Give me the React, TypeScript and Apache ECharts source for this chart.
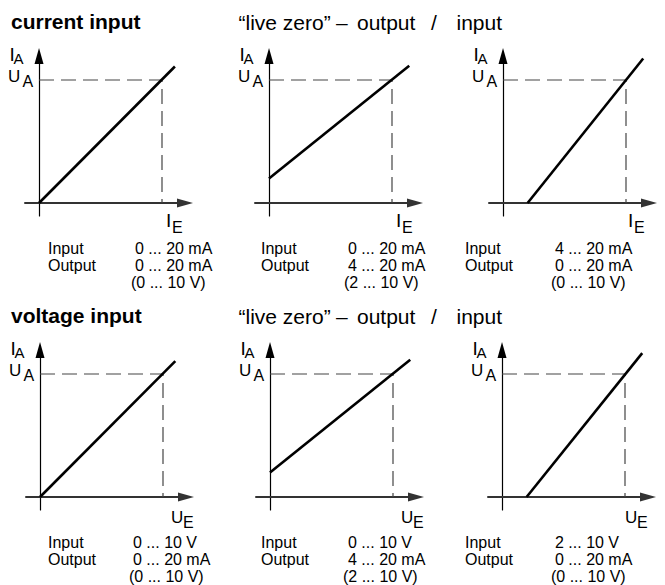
import React, { useEffect, useRef } from "react";
import * as echarts from "echarts";

// ---- data ----
const rowTitles = ["current input", "voltage input"];
const headerParts = ["\u201Clive zero\u201D", "\u2013", "output", "/", "input"];
const inputFull = [20, 20, 20, 10, 10, 10]; // full-scale input (mA or V)
const outputFull = [20, 20, 20, 20, 20, 20]; // full-scale output (mA)
const transferLines: number[][][] = [
  [[0, 0], [22.1, 22.2]],
  [[0, 4], [22.8, 22.3]],
  [[4, 0], [22.8, 23.5]],
  [[0, 0], [11.0, 22.1]],
  [[0, 4], [11.4, 22.3]],
  [[2, 0], [11.4, 23.4]],
];
const yMainLabels = ["I", "U"];
const xMainLabels = ["I", "I", "I", "U", "U", "U"];
const inputRanges = ["0 ... 20 mA", "0 ... 20 mA", "4 ... 20 mA", "0 ... 10 V", "0 ... 10 V", "2 ... 10 V"];
const outputRanges = ["0 ... 20 mA", "4 ... 20 mA", "0 ... 20 mA", "0 ... 20 mA", "4 ... 20 mA", "0 ... 20 mA"];
const voltRanges = ["(0 ... 10 V)", "(2 ... 10 V)", "(0 ... 10 V)", "(0 ... 10 V)", "(2 ... 10 V)", "(0 ... 10 V)"];
const rowLabels = ["Input", "Output"];

// ---- layout ----
const ORIGINS = [[39, 203], [269, 203], [503, 203], [40, 497], [270, 497], [502, 497]];
const INFO_X = [[48, 135, 131], [261, 348, 344], [465, 555, 551], [48, 133, 129], [261, 348, 343], [465, 555, 551]];
const XLABEL_DX = [0, 0, -2, 0, 0, -8];
const FS_PX = 123; // pixels per full scale
const LEFT_EXT = 14, RIGHT_EXT = 146, DOWN_EXT = 13, UP_EXT = 147;
const FONT = "Liberation Sans, Arial, Helvetica, sans-serif";

function txt(text: string, x: number, y: number, size: number, weight: string = "normal") {
  return {
    type: "text",
    x,
    y,
    silent: true,
    style: {
      text,
      fill: "#000",
      fontSize: size,
      fontWeight: weight,
      fontFamily: FONT,
      textAlign: "left",
      textVerticalAlign: "middle",
    },
  };
}

export default function App() {
  const ref = useRef<HTMLDivElement>(null);
  useEffect(() => {
    if (!ref.current) return;
    const chart = echarts.init(ref.current, undefined, { renderer: "svg" });
    const grids: any[] = [];
    const xAxes: any[] = [];
    const yAxes: any[] = [];
    const series: any[] = [];
    const graphics: any[] = [];

    ORIGINS.forEach(([ox, oy], i) => {
      grids.push({ left: ox - LEFT_EXT, top: oy - UP_EXT, width: LEFT_EXT + RIGHT_EXT, height: UP_EXT + DOWN_EXT });
      const F = inputFull[i];
      const G = outputFull[i];
      xAxes.push({
        type: "value",
        gridIndex: i,
        min: (-LEFT_EXT / FS_PX) * F,
        max: (RIGHT_EXT / FS_PX) * F,
        axisLine: {
          show: true,
          onZero: true,
          symbol: ["none", "triangle"],
          symbolSize: [9, 16],
          lineStyle: { color: "#333", width: 2 },
        },
        axisTick: { show: false },
        axisLabel: { show: false },
        splitLine: { show: false },
      });
      yAxes.push({
        type: "value",
        gridIndex: i,
        min: (-DOWN_EXT / FS_PX) * G,
        max: (UP_EXT / FS_PX) * G,
        axisLine: {
          show: true,
          onZero: true,
          symbol: ["none", "triangle"],
          symbolSize: [9, 16],
          lineStyle: { color: "#000", width: 1.2 },
        },
        axisTick: { show: false },
        axisLabel: { show: false },
        splitLine: { show: false },
      });
      series.push({
        type: "line",
        xAxisIndex: i,
        yAxisIndex: i,
        data: [[0, G], [F, G], [F, 0]],
        symbol: "none",
        silent: true,
        z: 2,
        lineStyle: { color: "#444", width: 1.2, type: [15, 7] },
      });
      series.push({
        type: "line",
        xAxisIndex: i,
        yAxisIndex: i,
        data: transferLines[i],
        symbol: "none",
        silent: true,
        z: 3,
        lineStyle: { color: "#000", width: 2.6 },
      });

      // axis labels
      graphics.push(txt("I", ox - 29.5, oy - 149, 19));
      graphics.push(txt("A", ox - 25.5, oy - 144.5, 15));
      graphics.push(txt(yMainLabels[1], ox - 31, oy - 126.5, 17));
      graphics.push(txt("A", ox - 16.5, oy - 121.5, 16));
      const row = i < 3 ? 0 : 1;
      const dx = XLABEL_DX[i];
      if (row === 0) {
        graphics.push(txt(xMainLabels[i], ox + 127 + dx, oy + 17, 19));
        graphics.push(txt("E", ox + 133 + dx, oy + 24, 16));
      } else {
        graphics.push(txt(xMainLabels[i], ox + 131 + dx, oy + 20, 17));
        graphics.push(txt("E", ox + 143 + dx, oy + 25, 16));
      }

      // info text
      const [lx, vx, px] = INFO_X[i];
      const baseY = oy + 45.5;
      graphics.push(txt(rowLabels[0], lx, baseY, 16));
      graphics.push(txt(rowLabels[1], lx, baseY + 17, 16));
      graphics.push(txt(inputRanges[i], vx, baseY, 16));
      graphics.push(txt(outputRanges[i], vx, baseY + 17, 16));
      graphics.push(txt(voltRanges[i], px, baseY + 33.5, 16));
    });

    // headings
    [0, 1].forEach((r) => {
      const y0 = r * 294;
      graphics.push(txt(rowTitles[r], 11, 21 + y0, 21, "bold"));
      const hx = [238.5, 336, 357, 431, 456.5];
      headerParts.forEach((p, k) => graphics.push(txt(p, hx[k], 22 + y0, 21)));
    });

    chart.setOption({
      animation: false,
      backgroundColor: "#fff",
      grid: grids,
      xAxis: xAxes,
      yAxis: yAxes,
      series,
      graphic: { elements: graphics },
    });
    return () => chart.dispose();
  }, []);
  return <div ref={ref} style={{ position: "fixed", left: 0, top: 0, width: 665, height: 585 }} />;
}
